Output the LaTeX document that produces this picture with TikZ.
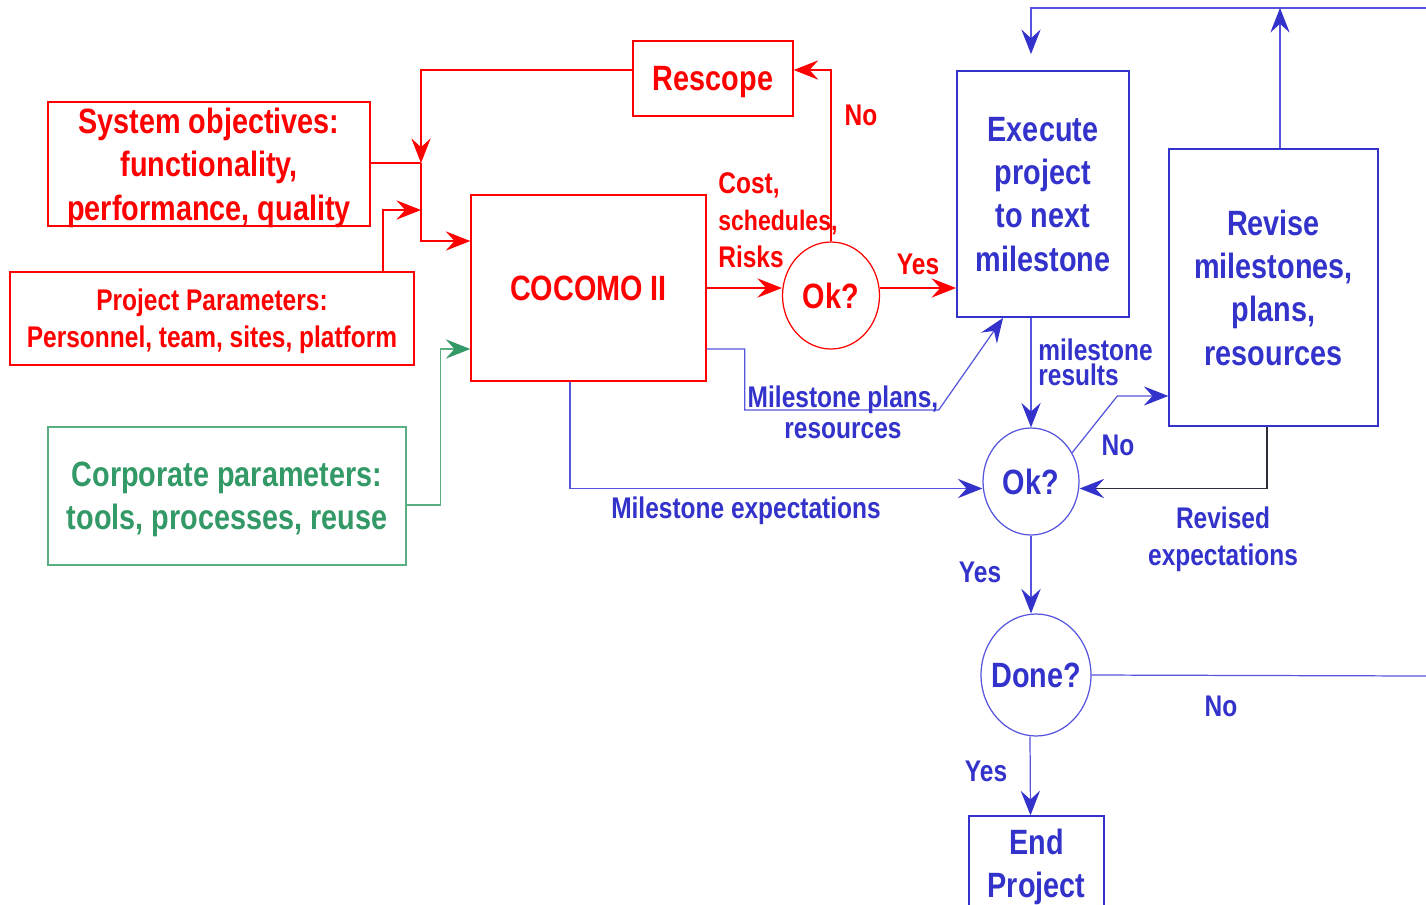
\documentclass[tikz,border=0pt]{standalone}
\usepackage{fontspec}
\setmainfont{Liberation Sans}[FakeStretch=0.82]
\usetikzlibrary{arrows.meta,shapes.geometric}

\definecolor{cocred}{RGB}{255,0,0}
\definecolor{cocblue}{RGB}{51,51,204}
\definecolor{cocblueline}{RGB}{85,85,221}
\definecolor{cocgreen}{RGB}{51,153,102}
\definecolor{cocgreenline}{RGB}{90,175,130}
\definecolor{cocdark}{RGB}{45,45,60}

\newcommand{\bigfont}{\fontsize{20}{24.7}\selectfont\bfseries}
\newcommand{\labfont}{\fontsize{17}{21.2}\selectfont\bfseries}

\tikzset{
  redbox/.style={draw=cocred,text=cocred,line width=0.8pt,align=center,inner sep=0pt,text depth=-2pt,font=\bigfont},
  bluebox/.style={draw=cocblue,text=cocblue,line width=1.1pt,align=center,inner sep=0pt,text depth=-2pt,font=\bigfont},
  greenbox/.style={draw=cocgreenline,text=cocgreen,line width=0.8pt,align=center,inner sep=0pt,text depth=-2pt,font=\bigfont},
  redoval/.style={ellipse,draw=cocred,text=cocred,line width=0.7pt,inner sep=0pt,font=\bigfont},
  blueoval/.style={ellipse,draw=cocblueline,text=cocblue,line width=0.7pt,inner sep=0pt,font=\bigfont},
  redlab/.style={text=cocred,font=\labfont,inner sep=0pt},
  bluelab/.style={text=cocblue,font=\labfont,inner sep=0pt},
  redline/.style={draw=cocred,line width=0.7pt},
  blueline/.style={draw=cocblueline,line width=0.7pt},
  greenline/.style={draw=cocgreenline,line width=0.7pt},
  redarrow/.style={redline,-{Stealth[length=14pt,width=11pt,inset=5pt,color=cocred]}},
  bluearrow/.style={blueline,-{Stealth[length=14pt,width=11pt,inset=5pt,color=cocblue]}},
  greenarrow/.style={greenline,-{Stealth[length=14pt,width=11pt,inset=5pt,color=cocgreen]}},
}

\begin{document}
\begin{tikzpicture}[x=0.02cm,y=-0.02cm]
  \useasboundingbox (0,0) rectangle (1426,904);

  % input boxes
  \node[redbox,minimum width=6.44cm,minimum height=2.48cm] (sysobj) at (209,164)
    {System objectives:\\functionality,\\performance, quality};
  \node[redbox,minimum width=8.08cm,minimum height=1.86cm,font=\fontsize{17}{21}\selectfont\bfseries] (projpar) at (212,318.5)
    {Project Parameters:\\Personnel, team, sites, platform};
  \node[greenbox,minimum width=7.16cm,minimum height=2.76cm] (corppar) at (227,496)
    {Corporate parameters:\\tools, processes, reuse};

  % model and first check
  \node[redbox,minimum width=3.2cm,minimum height=1.5cm] (rescope) at (713,78.5) {Rescope};
  \node[redbox,minimum width=4.7cm,minimum height=3.72cm] (cocomo) at (588.5,288) {COCOMO II};
  \node[redoval,minimum width=1.94cm,minimum height=2.14cm] (okred) at (831,295.5) {Ok?};

  % execution loop
  \node[bluebox,minimum width=3.44cm,minimum height=4.92cm] (execute) at (1043,194)
    {Execute\\project\\to next\\milestone};
  \node[bluebox,line width=0.8pt,minimum width=4.18cm,minimum height=5.54cm] (revise) at (1273.5,287.5)
    {Revise\\milestones,\\plans,\\resources};
  \node[blueoval,minimum width=1.92cm,minimum height=2.14cm] (okblue) at (1031,481.5) {Ok?};
  \node[blueoval,inner xsep=-0.12cm,minimum width=2.2cm,minimum height=2.44cm] (done) at (1036,675) {Done?};
  \node[bluebox,line width=0.8pt,minimum width=2.7cm,minimum height=1.9cm] (endproj) at (1036.5,863.5)
    {End\\Project};

  \coordinate (merge) at (421,163);
  \coordinate (pin) at (421,210);
  \coordinate (topright) at (1426,8);
  \coordinate (rightedge) at (1426,676);

  % red connectors
  \draw[redarrow] ([yshift=0.17cm]rescope.west) -| (merge);
  \draw[redline] (sysobj.east |- merge) -- (merge);
  \draw[redarrow] (merge) |- ([yshift=0.94cm]cocomo.west);
  \draw[redarrow] ([xshift=3.42cm]projpar.north) |- (pin);
  \draw[redarrow] (cocomo.east) -- (cocomo.east -| okred.west);
  \draw[redarrow] (okred.east |- cocomo.east) -- (execute.west |- cocomo.east);
  \draw[redarrow] (okred.north) |- ([yshift=0.17cm]rescope.east);

  % green connector
  \draw[greenarrow] ([yshift=-0.18cm]corppar.east) -- ++(34,0) |- ([yshift=-1.22cm]cocomo.west);

  % blue connectors
  \draw[bluearrow] ([yshift=-1.22cm]cocomo.east) -- ++(38,0) -- ++(0,61) -- ++(194,0)
    -- ([xshift=0.94cm]execute.south west);
  \draw[bluearrow] ([xshift=-0.37cm]cocomo.south) |- ([yshift=-0.14cm]okblue.west);
  \draw[bluearrow] (execute.south -| okblue.north) -- (okblue.north);
  \draw[bluearrow] (okblue.35) -- ([xshift=-1.02cm,yshift=-2.17cm]revise.west)
    -- ([yshift=-2.17cm]revise.west);
  \draw[draw=cocdark,line width=0.7pt,-{Stealth[length=14pt,width=11pt,inset=5pt,color=cocblue]}]
    ([xshift=-0.13cm]revise.south) |- ([yshift=-0.14cm]okblue.east);
  \draw[bluearrow] (okblue.south) -- (okblue.south |- done.north);
  \draw[bluearrow] ([xshift=-0.12cm]done.south) -- ([xshift=-0.12cm]endproj.north);
  \draw[blueline] (done.east) -- (rightedge);
  \draw[bluearrow] (topright) -| ([xshift=-0.24cm,yshift=0.32cm]execute.north);
  \draw[bluearrow] ([xshift=0.13cm]revise.north) -- ([xshift=0.13cm]revise.north |- topright);

  % connector labels
  \node[redlab,anchor=west,align=left] (costlab) at (718,220)
    {Cost,\\{\fontsize{16}{21}\selectfont schedules,}\\Risks};
  \node[redlab] (nored) at (861,115) {No};
  \node[redlab] (yesred) at (918,264) {Yes};
  \node[bluelab,align=center,font=\fontsize{17}{17.6}\selectfont\bfseries] (planslab) at (843,412)
    {Milestone plans,\\resources};
  \node[bluelab] (explab) at (746,511) {Milestone expectations};
  \node[bluelab,anchor=west,align=left,font=\fontsize{17}{14.2}\selectfont\bfseries] (reslab) at (1038,362)
    {milestone\\results};
  \node[bluelab] (noblue) at (1118,445) {No};
  \node[bluelab,align=center] (revlab) at (1223,539) {Revised\\expectations};
  \node[bluelab] (yesblue) at (980,572) {Yes};
  \node[bluelab] (yesdone) at (986,771) {Yes};
  \node[bluelab] (nodone) at (1221,706) {No};
\end{tikzpicture}
\end{document}
